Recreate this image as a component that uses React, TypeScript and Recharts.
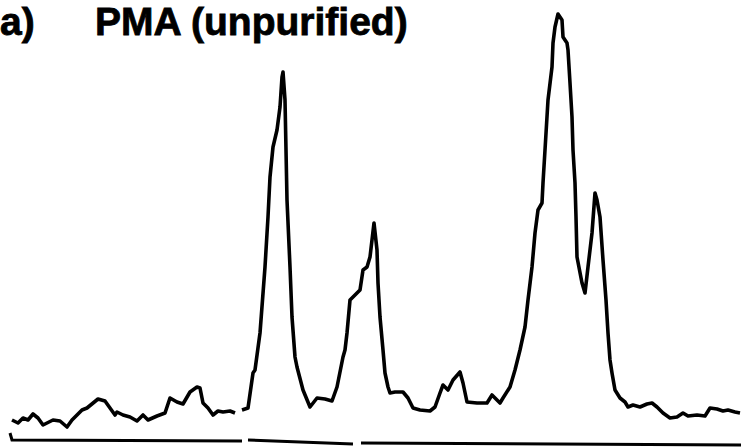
import React from "react";
import { LineChart, Line, XAxis, YAxis } from "recharts";

// elution position (arbitrary units, left to right)
const positions = [
  12, 18, 23, 28, 33, 38, 43, 53, 60, 67, 72, 82, 87, 98, 105, 110, 115, 117, 123, 130,
  137, 143, 148, 157, 165, 170, 177, 183, 190, 197, 200, 203, 208, 213, 218, 223, 230, 235,
  238, 242, 248, 253, 255, 260, 265, 268, 270, 273, 277, 280, 282, 283, 285, 287, 290, 292,
  295, 297, 303, 310, 317, 325, 332, 337, 343, 345, 347, 350, 353, 360, 363, 367, 370, 374,
  377, 378, 380, 383, 385, 388, 390, 395, 403, 408, 413, 420, 430, 435, 440, 443, 448, 453,
  460, 463, 467, 477, 487, 492, 497, 500, 503, 510, 515, 520, 525, 528, 532, 535, 538, 542,
  543, 545, 548, 552, 553, 555, 558, 562, 563, 567, 568, 570, 572, 573, 575, 576, 577, 582,
  585, 588, 592, 595, 597, 600, 603, 606, 608, 610, 612, 615, 620, 625, 628, 633, 640, 647,
  652, 657, 663, 670, 677, 683, 688, 697, 705, 710, 717, 723, 728, 735, 740,
];

// detector signal (arbitrary units); null = pen lift
const signal: (number | null)[] = [
  21, 18, 23, 21, 27, 23, 16, 21, 20, 14, 21, 31, 33, 42, 40, 33, 26, 29, 26, 24,
  20, 26, 21, 25, 28, 43, 39, 37, 49, 54, 53, 38, 33, 26, 30, 29, 30, 28,
  null, 31, 33, 68, 71, 108, 174, 224, 264, 294, 311, 334, 364, 369, 341, 241, 174, 124,
  84, 74, 51, 34, 43, 42, 40, 54, 84, 91, 108, 141, 144, 151, 171, 174, 184, 218,
  191, 158, 124, 91, 68, 54, 48, 49, 49, 43, 33, 31, 30, 34, 48, 56, 51, 61,
  69, 58, 39, 38, 38, 46, 41, 38, 43, 54, 71, 91, 114, 141, 174, 208, 231, 238,
  258, 291, 341, 374, 398, 414, 427, 421, 404, 398, 391, 358, 324, 291, 258, 224, 184, 158,
  148, 174, 208, 248, 241, 224, 181, 141, 108, 81, 68, 51, 43, 39, 34, 36, 34, 37,
  38, 34, 28, 23, 24, 28, 25, 26, 25, 33, 32, 30, 31, 29, 28,
];

// baseline rule drawn under the trace, in three pieces
const basePositions = [10, 12, 242, 245, 248, 353, 357, 361, 741];
const baseLevels: (number | null)[] = [8, 1, 0, null, 1, -3, null, -2, -4];

const traceData = positions.map((x, i) => ({ x, h: signal[i] }));
const baseData = basePositions.map((x, i) => ({ x, h: baseLevels[i] }));

const titleStyle: React.CSSProperties = {
  position: "absolute",
  top: 2,
  fontFamily: "'Liberation Sans', Arial, sans-serif",
  fontWeight: 700,
  fontSize: 39,
  lineHeight: "40px",
  color: "#000",
  whiteSpace: "nowrap",
  WebkitTextStroke: "0.8px #000",
};

export default function App() {
  return (
    <div
      style={{
        position: "absolute",
        left: 0,
        top: 0,
        width: 741,
        height: 447,
        background: "#fff",
        overflow: "hidden",
      }}
    >
      <LineChart width={741} height={447} margin={{ top: 0, right: 0, bottom: 0, left: 0 }}>
        <XAxis type="number" dataKey="x" domain={[0, 741]} hide allowDataOverflow />
        <YAxis type="number" domain={[-6, 441]} hide allowDataOverflow />
        <Line
          data={baseData}
          dataKey="h"
          type="linear"
          stroke="#000"
          strokeWidth={3}
          dot={false}
          isAnimationActive={false}
        />
        <Line
          data={traceData}
          dataKey="h"
          type="linear"
          stroke="#000"
          strokeWidth={3.6}
          strokeLinejoin="round"
          dot={false}
          isAnimationActive={false}
        />
      </LineChart>
      <div style={{ ...titleStyle, left: 0 }}>a)</div>
      <div style={{ ...titleStyle, left: 95 }}>PMA (unpurified)</div>
    </div>
  );
}
